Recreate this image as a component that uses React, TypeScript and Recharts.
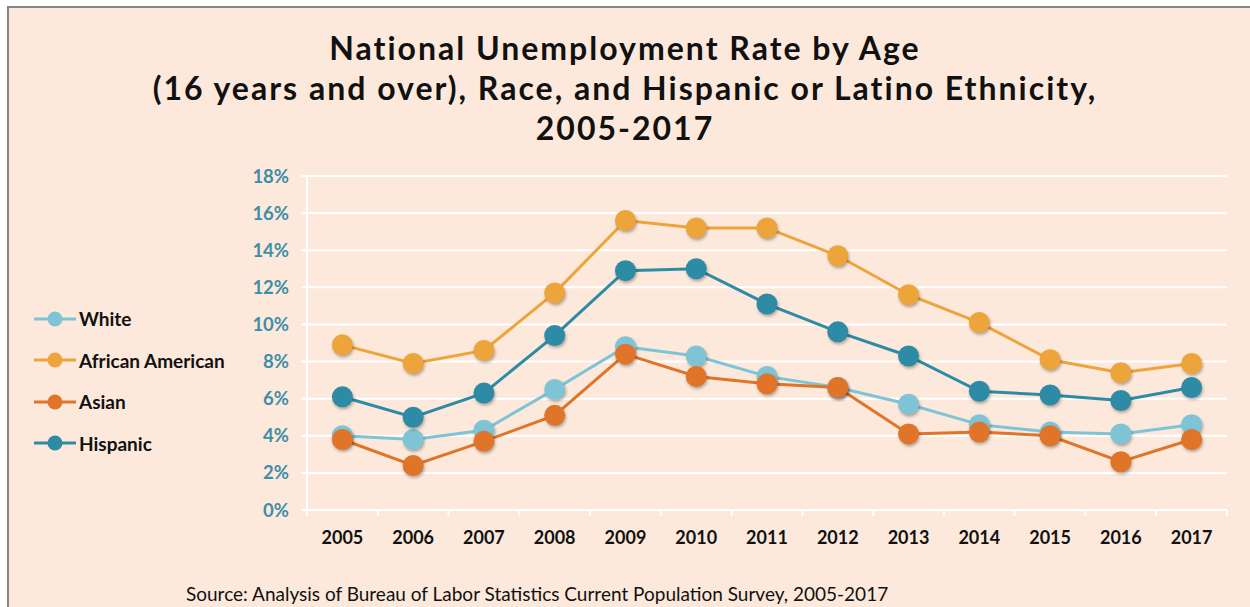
import React from "react";
import { LineChart, Line, XAxis, YAxis, CartesianGrid } from "recharts";

const years = ["2005", "2006", "2007", "2008", "2009", "2010", "2011", "2012", "2013", "2014", "2015", "2016", "2017"];
const white = [4.0, 3.8, 4.3, 6.5, 8.8, 8.3, 7.2, 6.6, 5.7, 4.6, 4.2, 4.1, 4.6];
const africanAmerican = [8.9, 7.9, 8.6, 11.7, 15.6, 15.2, 15.2, 13.7, 11.6, 10.1, 8.1, 7.4, 7.9];
const asian = [3.8, 2.4, 3.7, 5.1, 8.4, 7.2, 6.8, 6.6, 4.1, 4.2, 4.0, 2.6, 3.8];
const hispanic = [6.1, 5.0, 6.3, 9.4, 12.9, 13.0, 11.1, 9.6, 8.3, 6.4, 6.2, 5.9, 6.6];
const yTicks = [0, 2, 4, 6, 8, 10, 12, 14, 16, 18];

const series = [
  { key: "white", name: "White", color: "#7fc4d6", values: white },
  { key: "africanAmerican", name: "African American", color: "#eda43a", values: africanAmerican },
  { key: "hispanic", name: "Hispanic", color: "#2e8ba5", values: hispanic },
  { key: "asian", name: "Asian", color: "#e07428", values: asian },
];
const legendOrder = ["white", "africanAmerican", "asian", "hispanic"];

const data = years.map((year, i) => {
  const row: Record<string, string | number> = { year };
  series.forEach((s) => (row[s.key] = s.values[i]));
  return row;
});

const W = 1250;
const H = 607;
const margin = { top: 176, right: 23, bottom: 57, left: 247 };
const yAxisW = 60;
const plotW = W - margin.left - yAxisW - margin.right;
const band = plotW / years.length;
const font = "Lato, 'Open Sans', sans-serif";

function YearTick(props: any) {
  const { x, y, payload, index } = props;
  const half = band / 2;
  return (
    <g>
      <line x1={x - half} x2={x - half} y1={y} y2={y + 6} stroke="#fff" strokeWidth={2} />
      {index === years.length - 1 && (
        <line x1={x + half} x2={x + half} y1={y} y2={y + 6} stroke="#fff" strokeWidth={2} />
      )}
      <text x={x} y={y + 34} textAnchor="middle" fill="#111" fontFamily={font} fontWeight={700} fontSize={18}>
        {payload.value}
      </text>
    </g>
  );
}

function makeDot(color: string) {
  return (p: any) => (
    <circle
      key={`dot-${p.index}`}
      cx={p.cx}
      cy={p.cy}
      r={10.5}
      fill={color}
      style={{ filter: "drop-shadow(1.5px 2.5px 1.5px rgba(0,0,0,0.3))" }}
    />
  );
}

export default function App() {
  return (
    <div style={{ position: "relative", width: W, height: H, background: "#fff", overflow: "hidden" }}>
      <style>{`body{margin:0}`}</style>
      <div
        style={{
          position: "absolute",
          left: 7,
          top: 6,
          right: 0,
          bottom: 0,
          background: "#fde9db",
          borderTop: "2.5px solid #858585",
          borderLeft: "2.5px solid #858585",
        }}
      />
      <div
        style={{
          position: "absolute",
          left: 0,
          top: 28,
          width: W,
          textAlign: "center",
          fontFamily: font,
          fontWeight: 700,
          fontSize: 32,
          letterSpacing: 2,
          lineHeight: "40px",
          color: "#111",
        }}
      >
        National Unemployment Rate by Age
        <br />
        (16 years and over), Race, and Hispanic or Latino Ethnicity,
        <br />
        2005-2017
      </div>

      <div style={{ position: "absolute", left: 34, top: 298, fontFamily: font }}>
        {legendOrder.map((k) => {
          const s = series.find((x) => x.key === k)!;
          return (
            <div key={k} style={{ display: "flex", alignItems: "center", height: 41.5 }}>
              <svg width={44} height={20}>
                <line x1={0} x2={42} y1={10} y2={10} stroke={s.color} strokeWidth={3} />
                <circle cx={21} cy={10} r={7.5} fill={s.color} />
              </svg>
              <span style={{ fontWeight: 700, fontSize: 19, color: "#111", marginLeft: 1 }}>{s.name}</span>
            </div>
          );
        })}
      </div>

      <div style={{ position: "absolute", left: 0, top: 0 }}>
        <LineChart width={W} height={H} data={data} margin={margin}>
          <CartesianGrid vertical={false} stroke="#fff" strokeWidth={2} />
          <XAxis
            dataKey="year"
            scale="band"
            height={40}
            axisLine={{ stroke: "#fff", strokeWidth: 2 }}
            tickLine={false}
            tickSize={0}
            tickMargin={0}
            tick={YearTick}
            interval={0}
          />
          <YAxis
            domain={[0, 18]}
            ticks={yTicks}
            width={yAxisW}
            axisLine={{ stroke: "#fff", strokeWidth: 2 }}
            tickLine={{ stroke: "#fff", strokeWidth: 2 }}
            tickSize={6}
            tickMargin={12}
            tickFormatter={(v: number) => `${v}%`}
            tick={{ fill: "#3b8fa7", fontFamily: font, fontWeight: 700, fontSize: 18.5 }}
            interval={0}
          />
          <YAxis
            yAxisId="right"
            orientation="right"
            width={0}
            domain={[0, 18]}
            axisLine={{ stroke: "#fff", strokeWidth: 2 }}
            tick={false}
            tickLine={false}
          />
          {series.map((s) => (
            <Line
              key={s.key}
              dataKey={s.key}
              name={s.name}
              stroke={s.color}
              strokeWidth={3}
              dot={makeDot(s.color)}
              activeDot={false}
              isAnimationActive={false}
            />
          ))}
        </LineChart>
      </div>

      <div
        style={{
          position: "absolute",
          left: 186,
          top: 582,
          fontFamily: font,
          fontSize: 19,
          color: "#111",
          whiteSpace: "nowrap",
        }}
      >
        Source: Analysis of Bureau of Labor Statistics Current Population Survey, 2005-2017
      </div>
    </div>
  );
}
